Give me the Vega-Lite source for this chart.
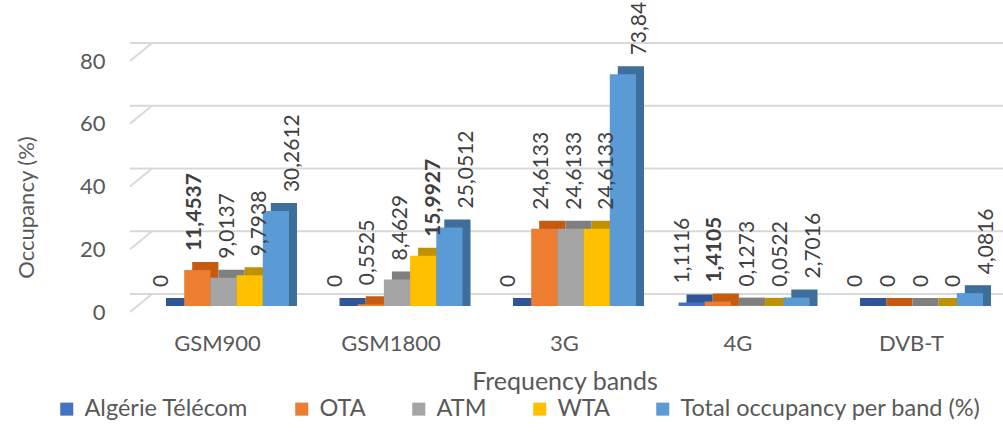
{
  "$schema": "https://vega.github.io/schema/vega-lite/v6.json",
  "width": 869,
  "height": 251,
  "autosize": {"type": "none"},
  "padding": {"left": 130, "top": 55, "right": 4, "bottom": 133},
  "background": "white",
  "config": {
    "view": {"stroke": null},
    "font": "Lato",
    "axisY": {
      "grid": false, "domain": false, "ticks": false,
      "labelFontSize": 22, "labelColor": "#595959", "labelPadding": 25, "labelOffset": 6,
      "titleFontSize": 22, "titleFontWeight": "normal", "titleColor": "#595959",
      "titleX": -104, "titleY": 152, "titleBaseline": "middle", "titleAlign": "center"
    },
    "axisX": {
      "grid": false, "domain": false, "ticks": false,
      "labelFontSize": 22, "labelColor": "#595959", "labelPadding": 37, "labelBaseline": "middle", "labelAngle": 0,
      "titleFontSize": 25, "titleFontWeight": "normal", "titleColor": "#595959",
      "titleY": 75, "titleBaseline": "middle"
    }
  },
  "datasets": {
    "occupancy": [
      {"band": "GSM900", "operator": "Algérie Télécom", "value": 0},
      {"band": "GSM900", "operator": "OTA", "value": 11.4537},
      {"band": "GSM900", "operator": "ATM", "value": 9.0137},
      {"band": "GSM900", "operator": "WTA", "value": 9.7938},
      {"band": "GSM900", "operator": "Total occupancy per band (%)", "value": 30.2612},
      {"band": "GSM1800", "operator": "Algérie Télécom", "value": 0},
      {"band": "GSM1800", "operator": "OTA", "value": 0.5525},
      {"band": "GSM1800", "operator": "ATM", "value": 8.4629},
      {"band": "GSM1800", "operator": "WTA", "value": 15.9927},
      {"band": "GSM1800", "operator": "Total occupancy per band (%)", "value": 25.0512},
      {"band": "3G", "operator": "Algérie Télécom", "value": 0},
      {"band": "3G", "operator": "OTA", "value": 24.6133},
      {"band": "3G", "operator": "ATM", "value": 24.6133},
      {"band": "3G", "operator": "WTA", "value": 24.6133},
      {"band": "3G", "operator": "Total occupancy per band (%)", "value": 73.84},
      {"band": "4G", "operator": "Algérie Télécom", "value": 1.1116},
      {"band": "4G", "operator": "OTA", "value": 1.4105},
      {"band": "4G", "operator": "ATM", "value": 0.1273},
      {"band": "4G", "operator": "WTA", "value": 0.0522},
      {"band": "4G", "operator": "Total occupancy per band (%)", "value": 2.7016},
      {"band": "DVB-T", "operator": "Algérie Télécom", "value": 0},
      {"band": "DVB-T", "operator": "OTA", "value": 0},
      {"band": "DVB-T", "operator": "ATM", "value": 0},
      {"band": "DVB-T", "operator": "WTA", "value": 0},
      {"band": "DVB-T", "operator": "Total occupancy per band (%)", "value": 4.0816}
    ],
    "gridTicks": [{"v": 0}, {"v": 20}, {"v": 40}, {"v": 60}, {"v": 80}]
  },
  "resolve": {"scale": {"color": "independent", "xOffset": "independent"}},
  "layer": [
    {
      "description": "back-wall gridlines",
      "data": {"name": "gridTicks"},
      "mark": {"type": "rule", "yOffset": -12, "xOffset": 22, "color": "#d9d9d9", "strokeWidth": 2},
      "encoding": {
        "y": {"field": "v", "type": "quantitative", "scale": {"domain": [0, 80]},
              "axis": {"values": [0, 20, 40, 60, 80]}, "title": "Occupancy (%)"}
      }
    },
    {
      "description": "floor-to-wall diagonals of the gridlines",
      "data": {"name": "gridTicks"},
      "mark": {"type": "rule", "yOffset": 6, "y2Offset": -12, "xOffset": -22, "x2Offset": 0, "color": "#d9d9d9", "strokeWidth": 2},
      "encoding": {
        "x": {"datum": "GSM900", "type": "nominal", "bandPosition": 0, "title": "Frequency bands"},
        "x2": {"datum": "GSM900", "bandPosition": 0},
        "y": {"field": "v", "type": "quantitative", "title": "Occupancy (%)"},
        "y2": {"field": "v"}
      }
    },
    {
      "description": "shaded top and side faces, pushed back in depth",
      "data": {"name": "occupancy"},
      "mark": {"type": "bar", "yOffset": -8, "y2Offset": 8},
      "encoding": {
        "x": {"field": "band", "type": "nominal", "sort": ["GSM900", "GSM1800", "3G", "4G", "DVB-T"],
              "scale": {"paddingInner": 0.245, "paddingOuter": 0.1268}, "title": "Frequency bands"},
        "xOffset": {"field": "operator", "type": "nominal",
                    "sort": ["Algérie Télécom", "OTA", "ATM", "WTA", "Total occupancy per band (%)"],
                    "scale": {"domain": ["Algérie Télécom", "OTA", "ATM", "WTA", "Total occupancy per band (%)"],
                              "paddingInner": 0, "paddingOuter": 0, "range": [14, 145]}},
        "y": {"field": "value", "type": "quantitative", "stack": null, "title": "Occupancy (%)"},
        "color": {"field": "operator", "type": "nominal", "legend": null,
                  "sort": ["Algérie Télécom", "OTA", "ATM", "WTA", "Total occupancy per band (%)"],
                  "scale": {"domain": ["Algérie Télécom", "OTA", "ATM", "WTA", "Total occupancy per band (%)"],
                            "range": ["#2F5597", "#C55A11", "#7F7F7F", "#BF9000", "#3E6E9C"]}}
      }
    },
    {
      "description": "front faces",
      "data": {"name": "occupancy"},
      "mark": {"type": "bar"},
      "encoding": {
        "x": {"field": "band", "type": "nominal", "sort": ["GSM900", "GSM1800", "3G", "4G", "DVB-T"], "title": "Frequency bands"},
        "xOffset": {"field": "operator", "type": "nominal",
                    "sort": ["Algérie Télécom", "OTA", "ATM", "WTA", "Total occupancy per band (%)"],
                    "scale": {"domain": ["Algérie Télécom", "OTA", "ATM", "WTA", "Total occupancy per band (%)"],
                              "paddingInner": 0, "paddingOuter": 0, "range": [6, 137]}},
        "y": {"field": "value", "type": "quantitative", "stack": null, "title": "Occupancy (%)"},
        "color": {"field": "operator", "type": "nominal",
                  "sort": ["Algérie Télécom", "OTA", "ATM", "WTA", "Total occupancy per band (%)"],
                  "scale": {"domain": ["Algérie Télécom", "OTA", "ATM", "WTA", "Total occupancy per band (%)"],
                            "range": ["#4472C4", "#ED7D31", "#A5A5A5", "#FFC000", "#5B9BD5"]},
                  "legend": {"title": null, "orient": "none", "direction": "horizontal", "columns": 5,
                             "legendX": -75, "legendY": 342, "symbolType": "square", "symbolSize": 170,
                             "symbolStrokeWidth": 0, "symbolOpacity": 1, "labelFontSize": 23.5, "labelColor": "#595959",
                             "labelOffset": 6, "columnPadding": 41, "labelLimit": 400}}
      }
    },
    {
      "description": "value labels",
      "data": {"name": "occupancy"},
      "transform": [
        {"filter": "!((datum.band === 'GSM900' && datum.operator === 'OTA') || (datum.band === 'GSM1800' && datum.operator === 'WTA') || (datum.band === '4G' && datum.operator === 'OTA'))"},
        {"calculate": "replace(toString(datum.value), '.', ',')", "as": "label"}
      ],
      "mark": {"type": "text", "angle": 270, "align": "left", "baseline": "middle", "dx": 19,
               "fontSize": 21, "color": "#404040"},
      "encoding": {
        "x": {"field": "band", "type": "nominal", "sort": ["GSM900", "GSM1800", "3G", "4G", "DVB-T"], "title": "Frequency bands"},
        "xOffset": {"field": "operator", "type": "nominal",
                    "sort": ["Algérie Télécom", "OTA", "ATM", "WTA", "Total occupancy per band (%)"],
                    "scale": {"domain": ["Algérie Télécom", "OTA", "ATM", "WTA", "Total occupancy per band (%)"],
                              "paddingInner": 0, "paddingOuter": 0, "range": [10, 141]}},
        "y": {"field": "value", "type": "quantitative", "title": "Occupancy (%)"},
        "text": {"field": "label"}
      }
    },
    {
      "description": "highlighted labels: largest operator share in the band",
      "data": {"name": "occupancy"},
      "transform": [
        {"filter": "(datum.band === 'GSM900' && datum.operator === 'OTA') || (datum.band === 'GSM1800' && datum.operator === 'WTA') || (datum.band === '4G' && datum.operator === 'OTA')"},
        {"calculate": "replace(toString(datum.value), '.', ',')", "as": "label"}
      ],
      "mark": {"type": "text", "angle": 270, "align": "left", "baseline": "middle", "dx": 19,
               "fontSize": 21, "fontWeight": "bold", "color": "#404040"},
      "encoding": {
        "x": {"field": "band", "type": "nominal", "sort": ["GSM900", "GSM1800", "3G", "4G", "DVB-T"], "title": "Frequency bands"},
        "xOffset": {"field": "operator", "type": "nominal",
                    "sort": ["Algérie Télécom", "OTA", "ATM", "WTA", "Total occupancy per band (%)"],
                    "scale": {"domain": ["Algérie Télécom", "OTA", "ATM", "WTA", "Total occupancy per band (%)"],
                              "paddingInner": 0, "paddingOuter": 0, "range": [10, 141]}},
        "y": {"field": "value", "type": "quantitative", "title": "Occupancy (%)"},
        "text": {"field": "label"}
      }
    }
  ]
}
